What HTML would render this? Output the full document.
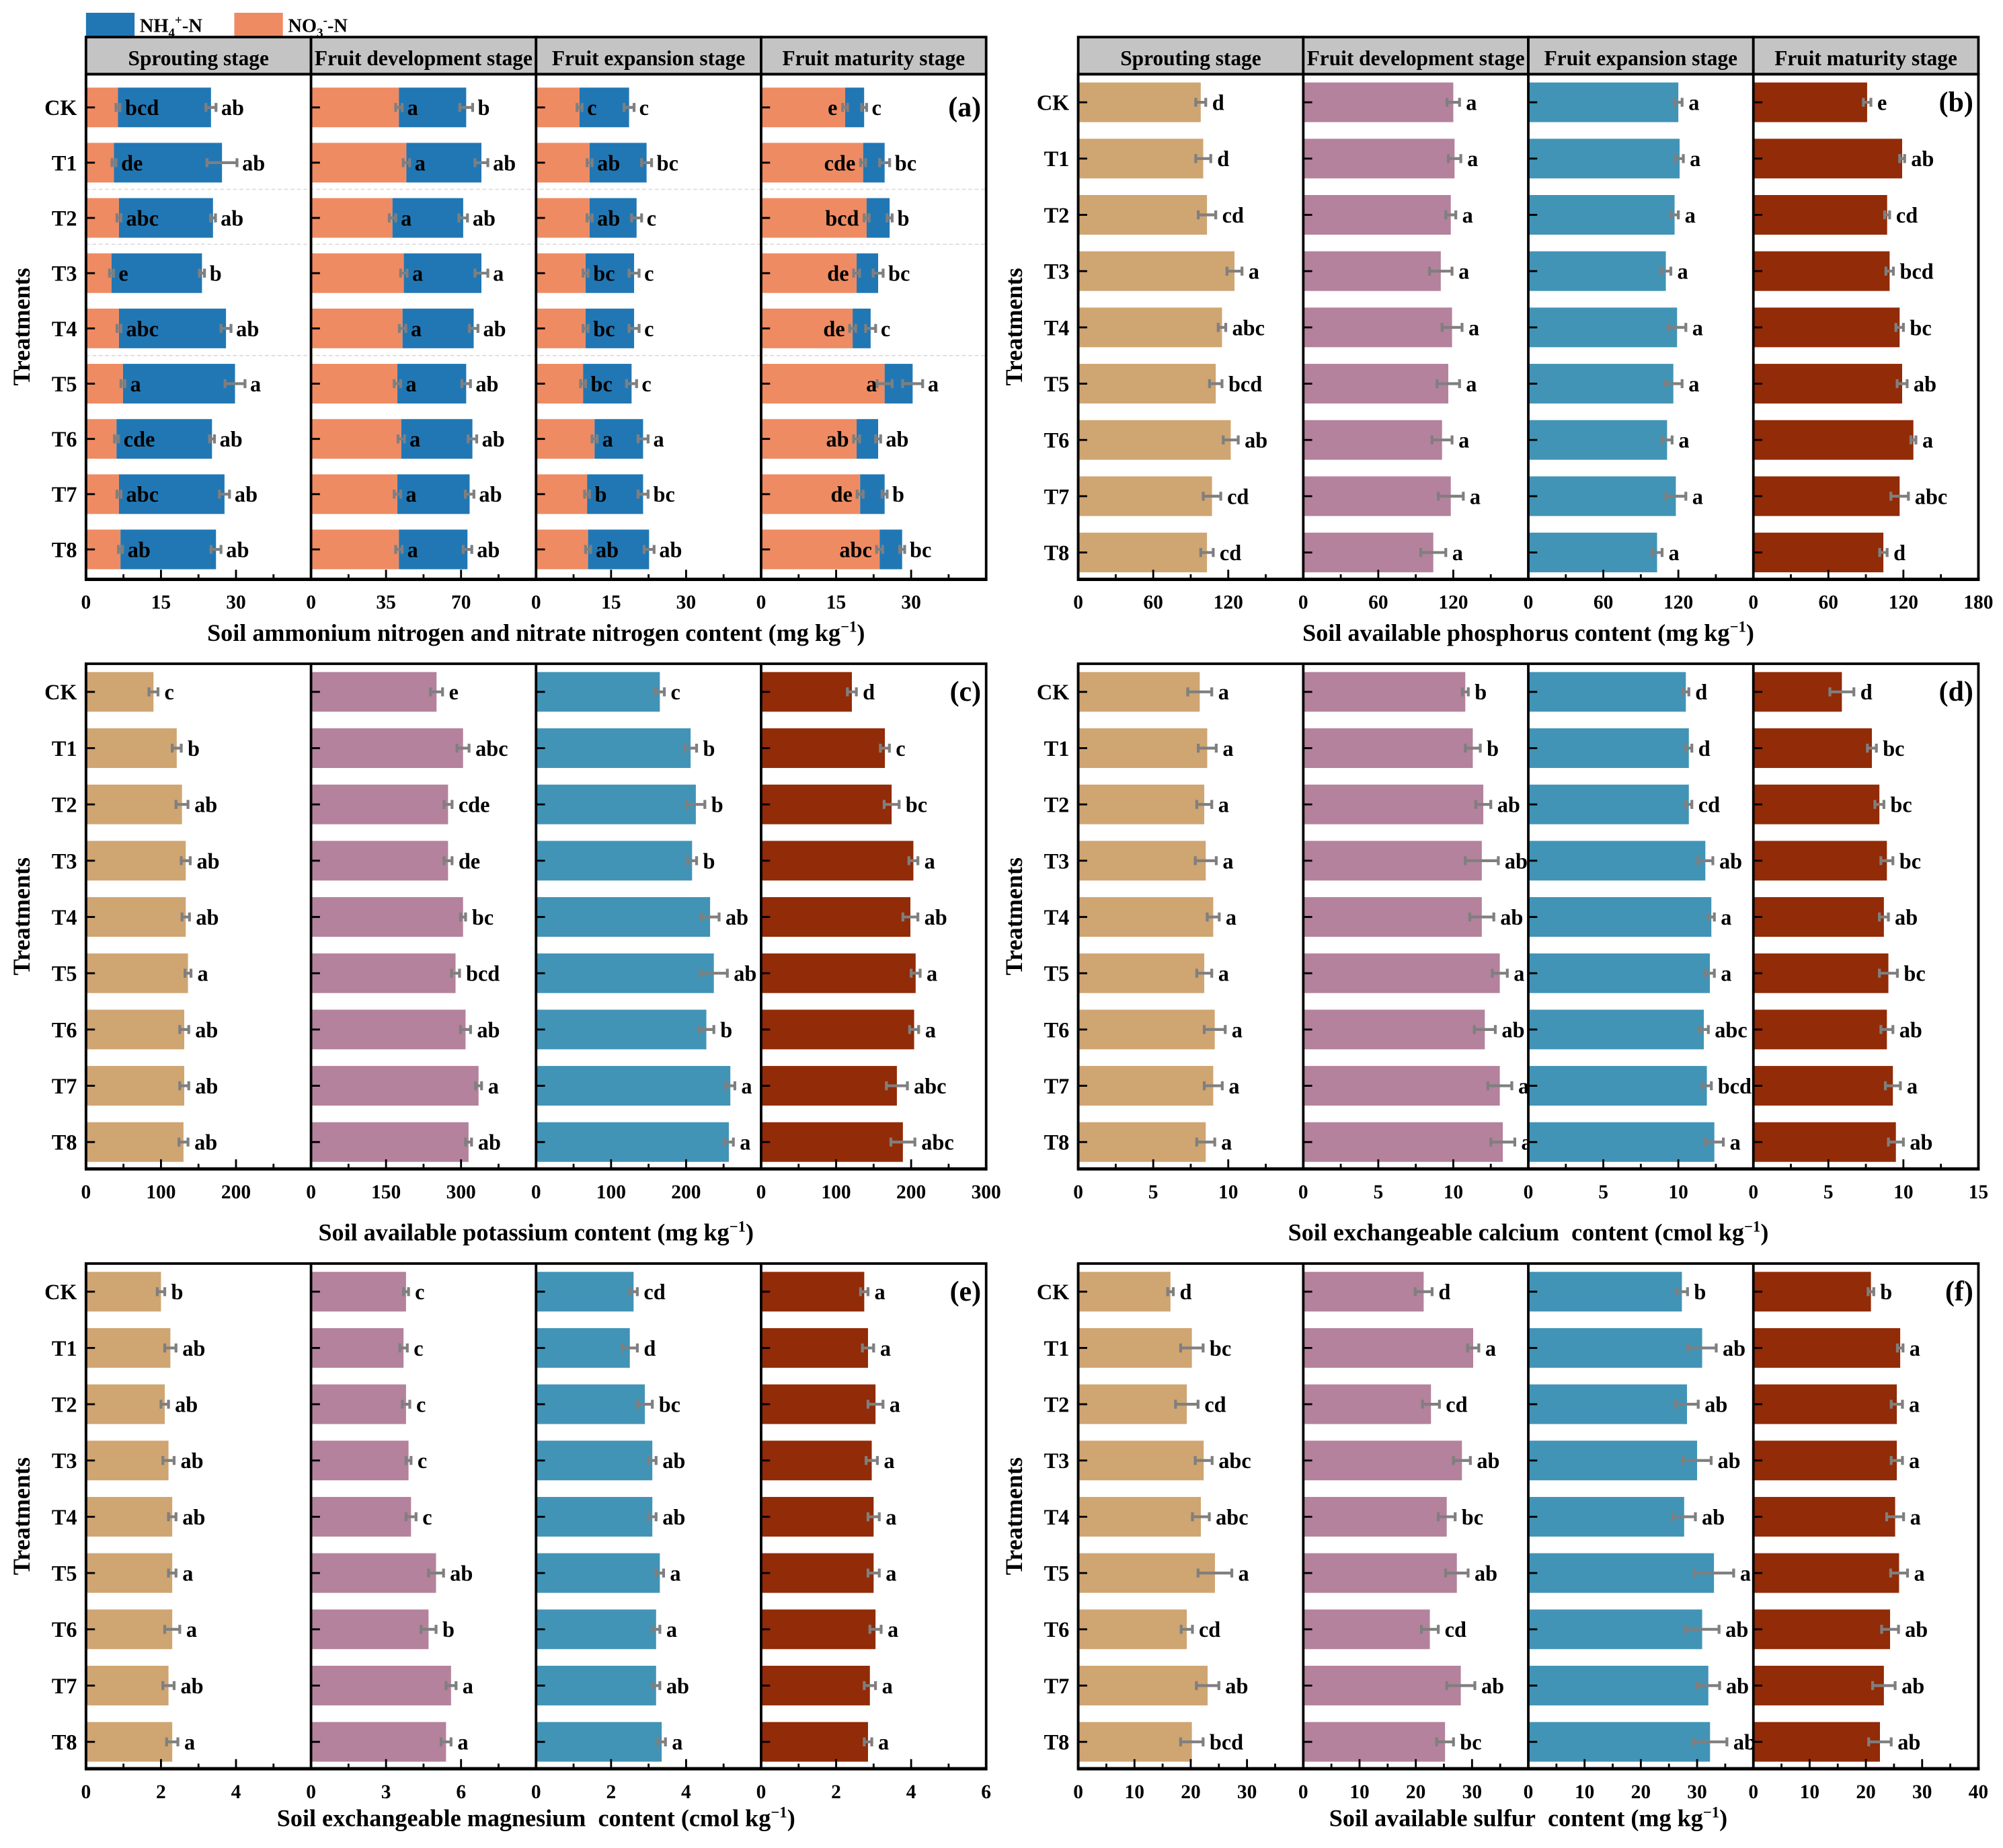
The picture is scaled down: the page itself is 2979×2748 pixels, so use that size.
<!DOCTYPE html>
<html><head><meta charset="utf-8"><style>
html,body{margin:0;padding:0;background:#fff;}
svg{display:block;}
text{font-family:"Liberation Serif",serif;font-weight:bold;fill:#000;}
</style></head><body>
<svg id="fig" xmlns="http://www.w3.org/2000/svg" width="2979" height="2748" viewBox="0 0 1566 1445">
<rect x="0" y="0" width="1566" height="1445" fill="#fff"/>
<g>
<rect x="67" y="10" width="38" height="19" fill="#2177b4"/>
<text x="109" y="25" font-size="15">NH<tspan font-size="10" dy="4">4</tspan><tspan font-size="10" dy="-10">+</tspan><tspan dy="6">-N</tspan></text>
<rect x="183" y="10" width="38" height="19" fill="#ee8b63"/>
<text x="225" y="25" font-size="15">NO<tspan font-size="10" dy="4">3</tspan><tspan font-size="10" dy="-10">-</tspan><tspan dy="6">-N</tspan></text>
</g>
</svg>
<script>
const treatments = ['CK','T1','T2','T3','T4','T5','T6','T7','T8'];
const stages = ['Sprouting stage','Fruit development stage','Fruit expansion stage','Fruit maturity stage'];

// Panel (a) NO3 and NH4 (stacked)
const aNO3 = [[6.4,5.6,6.6,5.1,6.6,7.4,6.1,6.6,6.9],[41,44.5,38,43.3,42.7,40.3,42.1,40.3,41],[8.7,10.7,10.7,9.9,9.9,9.4,11.7,10.2,10.4],[16.8,20.4,21.1,19.1,18.3,24.7,19.1,19.8,23.7]];
const aNH4 = [[18.6,21.6,18.8,18.1,21.4,22.4,19.1,21.1,19.1],[31.4,35,33,36.2,33.2,32.1,33.2,33.7,32],[9.9,11.4,9.4,9.7,9.7,9.7,9.7,11.2,12.2],[3.8,4.3,4.6,4.3,3.6,5.6,4.3,4.9,4.5]];
const aErrNO3 = [[0.4,0.4,0.4,0.4,0.4,0.4,0.4,0.4,0.4],[1.5,1.5,1.5,1.5,1.5,1.5,1.5,1.5,1.5],[0.5,0.5,0.5,0.5,0.5,0.5,0.5,0.5,0.5],[0.5,0.5,0.5,0.6,0.6,1.5,0.6,0.6,0.6]];
const aErrTot = [[1,3,0.5,0.5,1,2,0.5,1,1],[3,3,2,3,2,2,2,2,2],[1,1,1,1,1,1,1,1,1],[0.5,1,0.5,1,1,2,0.5,0.5,0.5]];
const aLet1 = [['bcd','de','abc','e','abc','a','cde','abc','ab'],['a','a','a','a','a','a','a','a','a'],['c','ab','ab','bc','bc','bc','a','b','ab'],['e','cde','bcd','de','de','a','ab','de','abc']];
const aLet2 = [['ab','ab','ab','b','ab','a','ab','ab','ab'],['b','ab','ab','a','ab','ab','ab','ab','ab'],['c','bc','c','c','c','c','a','bc','ab'],['c','bc','b','bc','c','a','ab','b','bc']];
const aMax = [45,105,45,45];
const aTicks = [[0,15,30],[0,35,70],[0,15,30],[0,15,30]];

// Panel (b) available P
const bVals = [[98,100,103,125,115,110,122,107,103],[120,121,118,110,119,116,111,118,104],[120,121,117,110,119,116,111,118,103],[91,119,107,109,117,119,128,117,104]];
const bErr = [[4,6,7,6,3,5,6,7,5],[5,5,4,9,8,9,8,10,10],[3,3,3,4,7,7,4,8,4],[3,2,2,3,3,4,2,7,3]];
const bLet = [['d','d','cd','a','abc','bcd','ab','cd','cd'],['a','a','a','a','a','a','a','a','a'],['a','a','a','a','a','a','a','a','a'],['e','ab','cd','bcd','bc','ab','a','abc','d']];
const bMax = [180,180,180,180];
const bTicks = [[0,60,120],[0,60,120],[0,60,120],[0,60,120,180]];

// Panel (c) available K
const cVals = [[90,121,128,133,133,136,131,131,130],[251,304,274,274,304,289,309,335,315],[165,206,213,208,232,237,227,259,257],[121,165,174,203,199,206,204,181,189]];
const cErr = [[6,6,8,6,5,4,6,6,6],[12,12,8,8,5,8,10,6,6],[6,8,12,6,12,18,10,6,6],[6,6,10,6,10,6,6,14,16]];
const cLet = [['c','b','ab','ab','ab','a','ab','ab','ab'],['e','abc','cde','de','bc','bcd','ab','a','ab'],['c','b','b','b','ab','ab','b','a','a'],['d','c','bc','a','ab','a','a','abc','abc']];
const cMax = [300,450,300,300];
const cTicks = [[0,100,200],[0,150,300],[0,100,200],[0,100,200,300]];

// Panel (d) exchangeable Ca
const dVals = [[8.1,8.6,8.4,8.5,9.0,8.4,9.1,9.0,8.5],[10.8,11.3,12.0,11.9,11.9,13.1,12.1,13.1,13.3],[10.5,10.7,10.7,11.8,12.2,12.1,11.7,11.9,12.4],[5.9,7.9,8.4,8.9,8.7,9.0,8.9,9.3,9.5]];
const dErr = [[0.8,0.6,0.5,0.7,0.4,0.5,0.7,0.6,0.6],[0.2,0.5,0.5,1.1,0.8,0.5,0.7,0.8,0.8],[0.2,0.2,0.2,0.5,0.2,0.3,0.3,0.3,0.6],[0.8,0.3,0.3,0.4,0.3,0.6,0.4,0.5,0.5]];
const dLet = [['a','a','a','a','a','a','a','a','a'],['b','b','ab','ab','ab','a','ab','a','a'],['d','d','cd','ab','a','a','abc','bcd','a'],['d','bc','bc','bc','ab','bc','ab','a','ab']];
const dMax = [15,15,15,15];
const dTicks = [[0,5,10],[0,5,10],[0,5,10],[0,5,10,15]];

// Panel (e) exchangeable Mg
const eVals = [[2.0,2.25,2.1,2.2,2.3,2.3,2.3,2.2,2.3],[3.8,3.7,3.8,3.9,4.0,5.0,4.7,5.6,5.4],[2.6,2.5,2.9,3.1,3.1,3.3,3.2,3.2,3.35],[2.75,2.85,3.05,2.95,3.0,3.0,3.05,2.9,2.85]];
const eErr = [[0.1,0.15,0.1,0.15,0.1,0.1,0.2,0.15,0.15],[0.1,0.15,0.15,0.1,0.2,0.3,0.3,0.2,0.2],[0.1,0.2,0.2,0.1,0.1,0.1,0.1,0.1,0.1],[0.1,0.15,0.2,0.15,0.15,0.15,0.15,0.15,0.1]];
const eLet = [['b','ab','ab','ab','ab','a','a','ab','a'],['c','c','c','c','c','ab','b','a','a'],['cd','d','bc','ab','ab','a','a','ab','a'],['a','a','a','a','a','a','a','a','a']];
const eMax = [6,9,6,6];
const eTicks = [[0,2,4],[0,3,6],[0,2,4],[0,2,4,6]];

// Panel (f) available S
const fVals = [[16.4,20.2,19.3,22.3,21.8,24.3,19.3,23,20.2],[21.4,30.2,22.7,28.2,25.5,27.3,22.5,28,25.2],[27.3,30.9,28.2,30,27.7,33,30.9,32,32.3],[20.9,26.1,25.5,25.5,25.2,25.9,24.3,23.2,22.5]];
const fErr = [[0.5,2,2,1.5,1.5,3,1,2,2],[1.5,1,1.5,1.5,1.5,2,1.5,2.5,1.5],[1,2.5,2,2.5,2,3.5,3,2,3],[0.5,0.5,1,1,1.5,1.5,1.5,2,2]];
const fLet = [['d','bc','cd','abc','abc','a','cd','ab','bcd'],['d','a','cd','ab','bc','ab','cd','ab','bc'],['b','ab','ab','ab','ab','a','ab','ab','ab'],['b','a','a','a','a','a','ab','ab','ab']];
const fMax = [40,40,40,40];
const fTicks = [[0,10,20,30],[0,10,20,30],[0,10,20,30],[0,10,20,30,40]];

const NS = 'http://www.w3.org/2000/svg';
const svg = document.getElementById('fig');
function mk(tag, attrs, parent){
  const el = document.createElementNS(NS, tag);
  for (const k in attrs) el.setAttribute(k, attrs[k]);
  (parent || svg).appendChild(el);
  return el;
}
const SUBW = 176, BARH = 31, LETFS = 17;
const colsSingle = ['#cfa572','#b4829c','#4194b6','#922b07'];

function drawPanel(cfg){
  const g = mk('g', {});
  
  
  const x0 = cfg.x0, top = cfg.top, bot = cfg.bottom;
  const cy = i => cfg.cy0 + i * cfg.step;
  if (cfg.header){
    for (let s = 0; s < 4; s++){
      const hr = mk('rect', {x:x0+s*SUBW, y:29, width:SUBW, height:29, fill:'#c4c4c4', stroke:'#000', 'stroke-width':2}, g);
      
      
      const ht = mk('text', {x:x0+s*SUBW+SUBW/2, y:51, 'font-size':16.5, 'text-anchor':'middle'}, g);
      ht.textContent = stages[s];
      
      
    }
  }
  if (cfg.grid){
    cfg.grid.forEach(gy => {
      const gl = mk('line', {x1:x0, x2:x0+4*SUBW, y1:gy, y2:gy, stroke:'#d8d8d8', 'stroke-width':0.8, 'stroke-dasharray':'3,2'}, g);
      
      
    });
  }
  for (let s = 0; s < 4; s++){
    const sx = x0 + s*SUBW;
    const max = cfg.max[s];
    const X = v => sx + v / max * SUBW;
    for (let i = 0; i < 9; i++){
      const y = cy(i);
      if (cfg.stacked){
        const n3 = cfg.no3[s][i], n4 = cfg.nh4[s][i], tot = n3 + n4;
        const r1 = mk('rect', {x:X(0), y:y-BARH/2, width:X(n3)-X(0), height:BARH, fill:'#ee8b63'}, g);
        
        
        const r2 = mk('rect', {x:X(n3), y:y-BARH/2, width:X(tot)-X(n3), height:BARH, fill:'#2177b4'}, g);
        
        
        const e1 = cfg.err1[s][i];
        const eb1 = mk('path', {d:`M${X(n3-e1)},${y}H${X(n3+e1)}M${X(n3-e1)},${y-3.5}V${y+3.5}M${X(n3+e1)},${y-3.5}V${y+3.5}`, stroke:'#7f7f7f', 'stroke-width':2.2, fill:'none'}, g);
        
        
        const e2 = cfg.err[s][i];
        const eb2 = mk('path', {d:`M${X(tot-e2)},${y}H${X(tot+e2)}M${X(tot-e2)},${y-3.5}V${y+3.5}M${X(tot+e2)},${y-3.5}V${y+3.5}`, stroke:'#7f7f7f', 'stroke-width':2.2, fill:'none'}, g);
        
        
        let t1;
        if (s < 3){
          t1 = mk('text', {x:X(n3+e1)+4, y:y+6, 'font-size':LETFS}, g);
        } else {
          t1 = mk('text', {x:X(n3)-6, y:y+6, 'font-size':LETFS, 'text-anchor':'end'}, g);
        }
        t1.textContent = cfg.let1[s][i];
        
        
        const t2 = mk('text', {x:X(tot+e2)+4, y:y+6, 'font-size':LETFS}, g);
        t2.textContent = cfg.let2[s][i];
        
        
      } else {
        const v = cfg.vals[s][i], e = cfg.err[s][i];
        const r = mk('rect', {x:X(0), y:y-BARH/2, width:X(v)-X(0), height:BARH, fill:colsSingle[s]}, g);
        
        
        const eb = mk('path', {d:`M${X(v-e)},${y}H${X(v+e)}M${X(v-e)},${y-3.5}V${y+3.5}M${X(v+e)},${y-3.5}V${y+3.5}`, stroke:'#7f7f7f', 'stroke-width':2.2, fill:'none'}, g);
        
        
        const t = mk('text', {x:X(v+e)+5, y:y+6, 'font-size':LETFS}, g);
        t.textContent = cfg.lets[s][i];
        
        
      }
      const yt = mk('line', {x1:sx, x2:sx+7, y1:y, y2:y, stroke:'#000', 'stroke-width':1.5}, g);
      
      
    }
    const ticks = cfg.ticks[s];
    const stepT = ticks[1] - ticks[0];
    for (let v = 0; v <= max + 1e-9; v += stepT/2){
      const isMajor = Math.abs(v / stepT - Math.round(v / stepT)) < 1e-6;
      if (v === 0) continue;
      const tk = mk('line', {x1:X(v), x2:X(v), y1:bot, y2:bot-(isMajor?7.5:4), stroke:'#000', 'stroke-width':1.5}, g);
      
      
    }
    ticks.forEach(v => {
      const tl = mk('text', {x:X(v), y:bot+23, 'font-size':15.5, 'text-anchor':'middle'}, g);
      tl.textContent = v;
      
      
    });
    const sep = mk('line', {x1:sx, x2:sx, y1:top, y2:bot, stroke:'#000', 'stroke-width':2}, g);
    
    
  }
  const fr = mk('rect', {x:x0, y:top, width:4*SUBW, height:bot-top, fill:'none', stroke:'#000', 'stroke-width':2}, g);
  
  
  const ax = mk('line', {x1:x0-1, x2:x0+4*SUBW+1, y1:bot, y2:bot, stroke:'#000', 'stroke-width':2.6}, g);
  
  
  for (let i = 0; i < 9; i++){
    const yl = mk('text', {x:x0-7, y:cy(i)+6, 'font-size':17, 'text-anchor':'end'}, g);
    yl.textContent = treatments[i];
    
    
  }
  const ytl = mk('text', {x:0, y:0, 'font-size':19, 'text-anchor':'middle', transform:`translate(${x0-44},${(top+bot)/2}) rotate(-90)`}, g);
  ytl.textContent = 'Treatments';
  
  
  const xt = mk('text', {x:x0+2*SUBW, y:cfg.titleY, 'font-size':19, 'text-anchor':'middle'}, g);
  xt.innerHTML = cfg.title + ' (' + cfg.unit + ' kg<tspan font-size="12" dy="-7">−1</tspan><tspan dy="7">)</tspan>';
  
  
  const pl = mk('text', {x:x0+4*SUBW-4, y:cfg.cy0+7, 'font-size':22, 'text-anchor':'end'}, g);
  pl.textContent = '(' + cfg.id + ')';
  
  
}

drawPanel({id:'a', x0:67, top:58, bottom:453, cy0:84, step:43.2, header:true, grid:[148,191,278], stacked:true, no3:aNO3, nh4:aNH4, err1:aErrNO3, err:aErrTot, let1:aLet1, let2:aLet2, max:aMax, ticks:aTicks, title:'Soil ammonium nitrogen and nitrate nitrogen content', unit:'mg', titleY:501});
drawPanel({id:'b', x0:843, top:58, bottom:453, cy0:80, step:44, header:true, vals:bVals, err:bErr, lets:bLet, max:bMax, ticks:bTicks, title:'Soil available phosphorus content', unit:'mg', titleY:501});
drawPanel({id:'c', x0:67, top:519, bottom:914, cy0:541, step:44, vals:cVals, err:cErr, lets:cLet, max:cMax, ticks:cTicks, title:'Soil available potassium content', unit:'mg', titleY:970});
drawPanel({id:'d', x0:843, top:519, bottom:914, cy0:541, step:44, vals:dVals, err:dErr, lets:dLet, max:dMax, ticks:dTicks, title:'Soil exchangeable calcium&#160; content', unit:'cmol', titleY:970});
drawPanel({id:'e', x0:67, top:988, bottom:1383, cy0:1010, step:44, vals:eVals, err:eErr, lets:eLet, max:eMax, ticks:eTicks, title:'Soil exchangeable magnesium&#160; content', unit:'cmol', titleY:1428});
drawPanel({id:'f', x0:843, top:988, bottom:1383, cy0:1010, step:44, vals:fVals, err:fErr, lets:fLet, max:fMax, ticks:fTicks, title:'Soil available sulfur&#160; content', unit:'mg', titleY:1428});
</script>
</body></html>
